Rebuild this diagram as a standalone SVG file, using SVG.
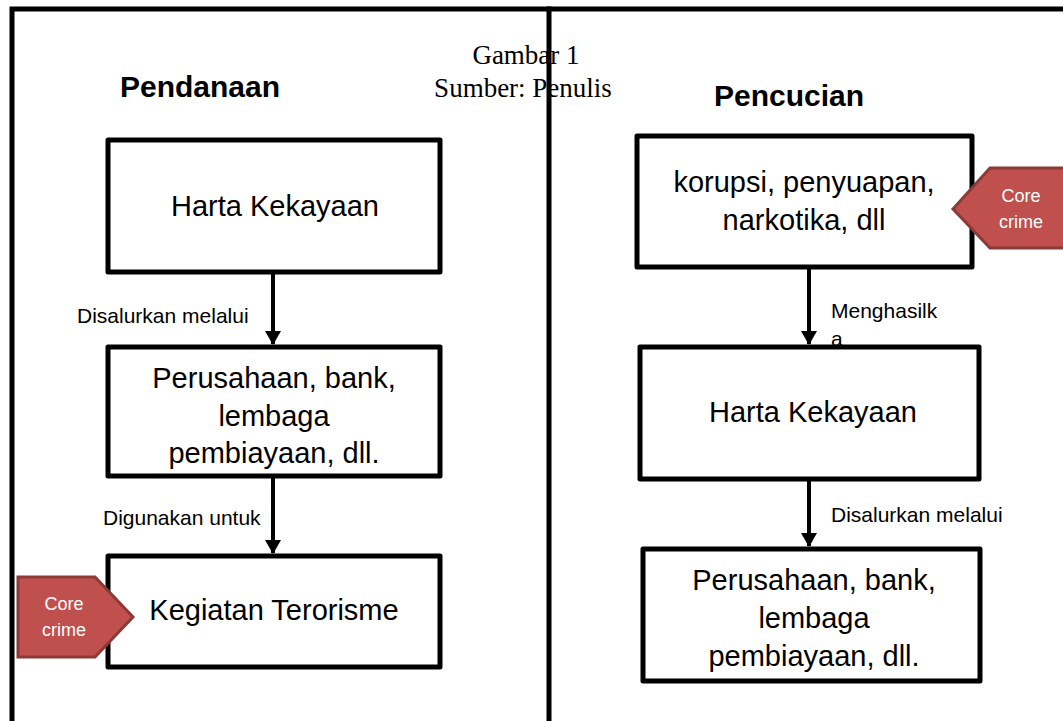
<svg xmlns="http://www.w3.org/2000/svg" width="1063" height="721" viewBox="0 0 1063 721">
<defs>
<style>
.frame{stroke:#000;stroke-width:5;fill:none;stroke-linecap:square}
.box{fill:#fff;stroke:#000;stroke-width:5;stroke-linejoin:round}
.conn{stroke:#000;stroke-width:4;fill:none}
.tag{fill:#C0504D;stroke:#8C3A37;stroke-width:3}
.t{font-family:"Liberation Sans",Arial,sans-serif;fill:#000;text-anchor:middle}
.big{font-size:29px}
.lbl{font-family:"Liberation Sans",Arial,sans-serif;font-size:21px;fill:#000}
.head{font-family:"Liberation Sans",Arial,sans-serif;font-size:30px;font-weight:bold;fill:#000}
.cap{font-family:"Liberation Serif","Times New Roman",serif;font-size:27px;fill:#000;text-anchor:middle}
.tagt{font-family:"Liberation Sans",Arial,sans-serif;font-size:18px;fill:#fff;text-anchor:middle}
</style>
<marker id="ah" markerWidth="14" markerHeight="16" refX="13" refY="8" orient="auto" markerUnits="userSpaceOnUse" viewBox="0 0 14 16">
<path d="M0,0 L14,8 L0,16 Z" fill="#000"/>
</marker>
</defs>
<g id="frame">
<path class="frame" d="M12,721 L12,9 L1063,9"/>
<line class="frame" x1="549" y1="9" x2="549" y2="721"/>
</g>
<g id="caption">
<text class="cap" x="526" y="64">Gambar 1</text>
<text class="cap" x="523" y="97">Sumber: Penulis</text>
</g>
<g id="headings">
<text class="head" x="120" y="97">Pendanaan</text>
<text class="head" x="714" y="106">Pencucian</text>
</g>
<g id="labels">
<text class="lbl" x="77" y="323">Disalurkan melalui</text>
<text class="lbl" x="103" y="525">Digunakan untuk</text>
<text class="lbl" x="831" y="318">Menghasilk</text>
<text class="lbl" x="831" y="346">a</text>
<text class="lbl" x="831" y="522">Disalurkan melalui</text>
</g>
<g id="connectors">
<line class="conn" x1="273" y1="273" x2="273" y2="344" marker-end="url(#ah)"/>
<line class="conn" x1="273" y1="477" x2="273" y2="553" marker-end="url(#ah)"/>
<line class="conn" x1="809" y1="267" x2="809" y2="344" marker-end="url(#ah)"/>
<line class="conn" x1="809" y1="479" x2="809" y2="546" marker-end="url(#ah)"/>
</g>
<g id="n-harta-left">
<rect class="box" x="108" y="140" width="332" height="132"/>
<text class="t big" x="275" y="216">Harta Kekayaan</text>
</g>
<g id="n-perusahaan-left">
<rect class="box" x="108" y="347" width="332" height="129"/>
<text class="t big" x="274" y="388">Perusahaan, bank,</text>
<text class="t big" x="274" y="426">lembaga</text>
<text class="t big" x="274" y="463">pembiayaan, dll.</text>
</g>
<g id="n-terorisme">
<rect class="box" x="108" y="556" width="332" height="111"/>
<text class="t big" x="274" y="620">Kegiatan Terorisme</text>
</g>
<g id="n-core-left">
<polygon class="tag" points="18,577 95,577 133,617 95,657 18,657"/>
<text class="tagt" x="64" y="610">Core</text>
<text class="tagt" x="64" y="636">crime</text>
</g>
<g id="n-korupsi">
<rect class="box" x="637" y="136" width="335" height="131"/>
<text class="t big" x="804" y="192">korupsi, penyuapan,</text>
<text class="t big" x="804" y="230">narkotika, dll</text>
</g>
<g id="n-core-right">
<polygon class="tag" points="953,209 990,168 1070,168 1070,248 990,248"/>
<text class="tagt" x="1021" y="202">Core</text>
<text class="tagt" x="1021" y="228">crime</text>
</g>
<g id="n-harta-right">
<rect class="box" x="640" y="347" width="339" height="132"/>
<text class="t big" x="813" y="422">Harta Kekayaan</text>
</g>
<g id="n-perusahaan-right">
<rect class="box" x="643" y="549" width="337" height="132"/>
<text class="t big" x="814" y="590">Perusahaan, bank,</text>
<text class="t big" x="814" y="628">lembaga</text>
<text class="t big" x="814" y="666">pembiayaan, dll.</text>
</g>
</svg>
